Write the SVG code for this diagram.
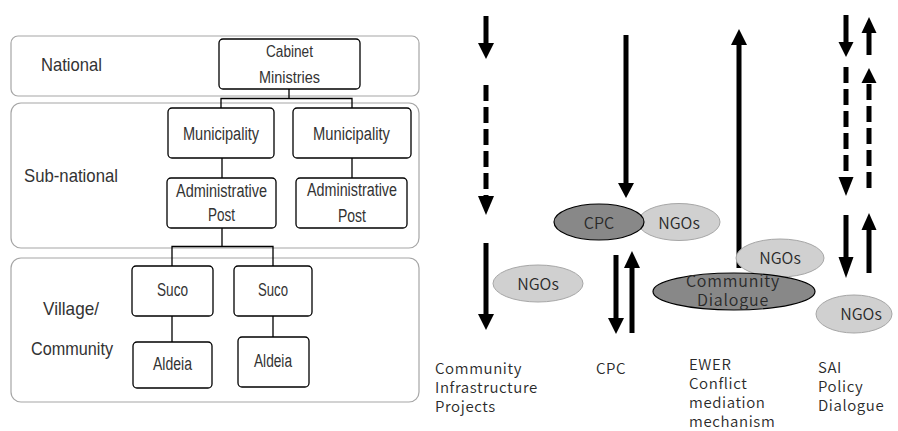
<svg xmlns="http://www.w3.org/2000/svg" width="898" height="431" viewBox="0 0 898 431">
<defs>
<style>
.band{fill:#fff;stroke:#a6a6a6;stroke-width:1.2}
.box{fill:#fff;stroke:#000;stroke-width:1.3}
.lt{font-family:"Liberation Sans",Arial,sans-serif;fill:#333}
.rt{font-family:"Noto Sans CJK JP","Noto Sans",sans-serif;font-size:15px;font-weight:350;letter-spacing:0.6px;fill:#2a2a2a}
.et{font-family:"Noto Sans CJK JP","Noto Sans",sans-serif;font-size:16px;font-weight:350;fill:#2a2a2a;text-anchor:middle}
.conn{fill:none;stroke:#000;stroke-width:1.3}
.shaft{stroke:#000;stroke-width:5;fill:none}
.dash{stroke:#000;stroke-width:5;fill:none;stroke-dasharray:16 6}
.head{fill:#000}
.ngo{fill:#d0d0d0;stroke:#a6a6a6;stroke-width:1}
.dark{fill:#888;stroke:#000;stroke-width:1.2}
</style>
</defs>
<rect width="898" height="431" fill="#fff"/>

<g id="bands">
<rect class="band" x="11" y="36" width="408" height="60" rx="7"/>
<rect class="band" x="11" y="103" width="408" height="145" rx="10"/>
<rect class="band" x="11" y="258" width="408" height="144" rx="10"/>
<text class="lt" x="41" y="71" font-size="19" textLength="61" lengthAdjust="spacingAndGlyphs">National</text>
<text class="lt" x="24" y="182" font-size="19" textLength="94" lengthAdjust="spacingAndGlyphs">Sub-national</text>
<text class="lt" x="43" y="315" font-size="19" textLength="56" lengthAdjust="spacingAndGlyphs">Village/</text>
<text class="lt" x="31" y="355" font-size="19" textLength="82" lengthAdjust="spacingAndGlyphs">Community</text>
</g>

<g id="connectors-left">
<path class="conn" d="M289,89 V98.5 M221,108 V98.5 H352 V108"/>
<path class="conn" d="M222,158 V178 M352,158 V178"/>
<path class="conn" d="M222,228 V246.5 M172,266 V246.5 H273 V266"/>
<path class="conn" d="M172,316 V342 M273,316 V337"/>
</g>

<g id="cabinet">
<rect class="box" x="219" y="39" width="141" height="50" rx="4"/>
<text class="lt" x="266" y="57" font-size="16" textLength="47" lengthAdjust="spacingAndGlyphs">Cabinet</text>
<text class="lt" x="259" y="83" font-size="16" textLength="61" lengthAdjust="spacingAndGlyphs">Ministries</text>
</g>
<g id="muni1">
<rect class="box" x="168" y="108" width="106" height="50" rx="4"/>
<text class="lt" x="183" y="140" font-size="18" textLength="76" lengthAdjust="spacingAndGlyphs">Municipality</text>
</g>
<g id="muni2">
<rect class="box" x="293" y="108" width="118" height="50" rx="4"/>
<text class="lt" x="313" y="140" font-size="18" textLength="77" lengthAdjust="spacingAndGlyphs">Municipality</text>
</g>
<g id="admin1">
<rect class="box" x="167" y="178" width="109" height="50" rx="4"/>
<text class="lt" x="176" y="197" font-size="18" textLength="91" lengthAdjust="spacingAndGlyphs">Administrative</text>
<text class="lt" x="208" y="221" font-size="18" textLength="27" lengthAdjust="spacingAndGlyphs">Post</text>
</g>
<g id="admin2">
<rect class="box" x="296" y="178" width="111" height="50" rx="4"/>
<text class="lt" x="307" y="196" font-size="18" textLength="90" lengthAdjust="spacingAndGlyphs">Administrative</text>
<text class="lt" x="338" y="222" font-size="18" textLength="28" lengthAdjust="spacingAndGlyphs">Post</text>
</g>
<g id="suco1">
<rect class="box" x="132" y="266" width="81" height="50" rx="4"/>
<text class="lt" x="157" y="296" font-size="18" textLength="31" lengthAdjust="spacingAndGlyphs">Suco</text>
</g>
<g id="suco2">
<rect class="box" x="234" y="266" width="78" height="50" rx="4"/>
<text class="lt" x="258" y="296" font-size="18" textLength="30" lengthAdjust="spacingAndGlyphs">Suco</text>
</g>
<g id="aldeia1">
<rect class="box" x="133" y="342" width="79" height="46" rx="4"/>
<text class="lt" x="153" y="370" font-size="18" textLength="39" lengthAdjust="spacingAndGlyphs">Aldeia</text>
</g>
<g id="aldeia2">
<rect class="box" x="238" y="337" width="71" height="50" rx="4"/>
<text class="lt" x="254" y="367" font-size="18" textLength="38" lengthAdjust="spacingAndGlyphs">Aldeia</text>
</g>

<g id="arrows">
<line class="shaft" x1="486" y1="16" x2="486" y2="44"/>
<polygon class="head" points="478,43 494,43 486,59"/>
<line class="dash" x1="486" y1="85" x2="486" y2="196"/>
<polygon class="head" points="478,196 494,196 486,215"/>
<line class="shaft" x1="486" y1="243" x2="486" y2="315"/>
<polygon class="head" points="478,314 494,314 486,330"/>
<line class="shaft" x1="626" y1="35" x2="626" y2="184"/>
<polygon class="head" points="618,183 634,183 626,198"/>
<line class="shaft" x1="616" y1="255" x2="616" y2="319"/>
<polygon class="head" points="608,318 624,318 616,334"/>
<line class="shaft" x1="632" y1="333" x2="632" y2="267"/>
<polygon class="head" points="624,268 640,268 632,251"/>
<line class="shaft" x1="739" y1="268" x2="739" y2="44"/>
<polygon class="head" points="731,45 747,45 739,29"/>
<line class="shaft" x1="846" y1="15" x2="846" y2="43"/>
<polygon class="head" points="838.5,42 853.5,42 846,57"/>
<line class="shaft" x1="869" y1="55" x2="869" y2="32"/>
<polygon class="head" points="861.5,33 876.5,33 869,17"/>
<line class="dash" x1="846" y1="67" x2="846" y2="178" stroke-dasharray="15 6"/>
<polygon class="head" points="838.5,177 853.5,177 846,196"/>
<line class="dash" x1="869" y1="188" x2="869" y2="82" stroke-dasharray="15 6"/>
<polygon class="head" points="861.5,83 876.5,83 869,68"/>
<line class="shaft" x1="846" y1="215" x2="846" y2="258"/>
<polygon class="head" points="838.5,257 853.5,257 846,278"/>
<line class="shaft" x1="869" y1="273" x2="869" y2="229"/>
<polygon class="head" points="861.5,230 876.5,230 869,213"/>
</g>

<g id="ngos-cip">
<ellipse class="ngo" cx="538" cy="283.5" rx="45" ry="18.5"/>
<text class="et" x="538" y="290">NGOs</text>
</g>
<g id="ngos-cpc">
<ellipse class="ngo" cx="679" cy="222" rx="41" ry="18.5"/>
<text class="et" x="679" y="229">NGOs</text>
</g>
<g id="cpc">
<ellipse class="dark" cx="599" cy="222" rx="45" ry="18"/>
<text class="et" x="599" y="229">CPC</text>
</g>
<g id="ngos-ewer">
<ellipse class="ngo" cx="780" cy="258" rx="44" ry="19"/>
<text class="et" x="780" y="264">NGOs</text>
</g>
<g id="community-dialogue">
<ellipse class="dark" cx="734" cy="291.5" rx="81" ry="18.5"/>
<text class="et" x="733" y="287" font-size="14" letter-spacing="0.8">Community</text>
<text class="et" x="733" y="306" font-size="14" letter-spacing="0.8">Dialogue</text>
</g>
<g id="ngos-sai">
<ellipse class="ngo" cx="854" cy="314" rx="38" ry="19"/>
<text class="et" x="861" y="320">NGOs</text>
</g>

<g id="labels">
<text class="rt" x="435" y="374">Community</text>
<text class="rt" x="435" y="393">Infrastructure</text>
<text class="rt" x="435" y="412">Projects</text>
<text class="rt" x="596" y="374">CPC</text>
<text class="rt" x="689" y="370">EWER</text>
<text class="rt" x="689" y="389">Conflict</text>
<text class="rt" x="689" y="408">mediation</text>
<text class="rt" x="689" y="427">mechanism</text>
<text class="rt" x="818" y="373">SAI</text>
<text class="rt" x="818" y="392">Policy</text>
<text class="rt" x="818" y="411">Dialogue</text>
</g>
</svg>
